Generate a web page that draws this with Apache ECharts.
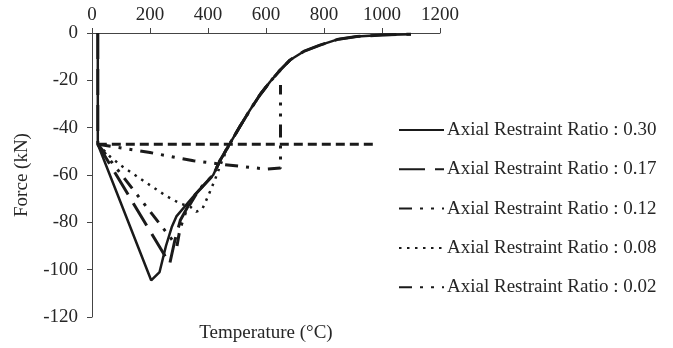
<!DOCTYPE html>
<html>
<head>
<meta charset="utf-8">
<script src="https://cdn.jsdelivr.net/npm/echarts@6/dist/echarts.min.js"></script>
<style>
  html, body { margin: 0; padding: 0; background: #fff; }
  #chart { width: 673px; height: 348px; }
</style>
</head>
<body>
<div id="chart"></div>
<script>
// [temperature (°C), force (kN)]
const ratio030 = [[20, 0], [20, -47], [204, -104.5], [233, -101], [255, -90], [275, -82], [291, -77.5],
  [350, -69], [418, -60], [441, -54], [476, -46.6], [510, -39.5], [545, -32.5], [580, -26], [614, -20.6],
  [650, -15.5], [683, -11.4], [730, -7.8], [786, -5.1], [850, -2.6], [913, -1.5], [1000, -0.8], [1100, -0.5]];
const ratio017 = [[20, 0], [20, -47], [268, -97.5], [285, -88], [305, -79], [350, -69], [418, -60],
  [441, -54], [476, -46.6], [510, -39.5], [545, -32.5], [580, -26], [614, -20.6], [650, -15.5], [683, -11.4],
  [730, -7.8], [786, -5.1], [850, -2.6], [913, -1.5], [1000, -0.8], [1100, -0.5]];
const ratio012 = [[20, -47], [293, -90], [303, -83], [325, -75], [370, -66], [418, -60], [441, -54],
  [476, -46.6], [510, -39.5], [545, -32.5], [580, -26], [614, -20.6], [650, -15.5], [683, -11.4]];
const ratio008 = [[20, -47], [60, -52], [100, -56], [190, -63.5], [258, -69], [303, -72], [340, -73.5],
  [360, -75.5], [380, -74.5], [400, -69], [424, -62], [450, -53.5], [476, -46.6], [510, -39.5],
  [545, -32.5], [580, -26], [614, -20.6]];
const ratio002 = [[20, -47], [200, -50.5], [350, -54], [450, -55.5], [600, -57.5], [650, -57], [650, -22]];
const initialLoad = [[20, -47], [975, -47]];

const seriesNames = ['Axial Restraint Ratio : 0.30', 'Axial Restraint Ratio : 0.17',
  'Axial Restraint Ratio : 0.12', 'Axial Restraint Ratio : 0.08', 'Axial Restraint Ratio : 0.02'];
const xTicks = { min: 0, max: 1200, step: 200 };
const yTicks = { min: -120, max: 0, step: 20 };

const font = 'Liberation Serif';
const ink = '#1a1a1a';
const textColor = '#262626';

const chart = echarts.init(document.getElementById('chart'));

function lineSeries(name, data, width, type) {
  return {
    name: name,
    type: 'line',
    data: data,
    symbol: 'none',
    showSymbol: false,
    animation: false,
    lineStyle: { color: ink, width: width, type: type },
    itemStyle: { color: ink },
    emphasis: { disabled: true },
    z: 3,
  };
}

const option = {
  backgroundColor: '#fff',
  animation: false,
  grid: { left: 92, top: 33, right: 233, bottom: 31, containLabel: false },
  legend: {
    data: seriesNames,
    orient: 'vertical',
    left: 393,
    top: 115,
    itemWidth: 45,
    itemHeight: 14,
    itemGap: 19.3,
    itemStyle: { color: 'rgba(0,0,0,0)', borderWidth: 0, opacity: 0 },
    textStyle: { fontFamily: font, fontSize: 19, color: textColor, lineHeight: 20, padding: [0, 0, 0, -2] },
  },
  xAxis: [
    {
      type: 'value',
      position: 'top',
      min: xTicks.min,
      max: xTicks.max,
      interval: xTicks.step,
      axisLine: { show: true, onZero: false, lineStyle: { color: '#444', width: 1 } },
      axisTick: { show: true, length: 5, lineStyle: { color: '#444' } },
      axisLabel: { fontFamily: font, fontSize: 19, color: textColor, margin: 8, formatter: (v) => String(v) },
      splitLine: { show: false },
    },
    {
      type: 'value',
      position: 'bottom',
      min: xTicks.min,
      max: xTicks.max,
      name: 'Temperature (°C)',
      nameLocation: 'middle',
      nameGap: 7,
      nameTextStyle: { fontFamily: font, fontSize: 19, color: textColor },
      axisLine: { show: false },
      axisTick: { show: false },
      axisLabel: { show: false },
      splitLine: { show: false },
    },
  ],
  yAxis: {
    type: 'value',
    min: yTicks.min,
    max: yTicks.max,
    interval: yTicks.step,
    name: 'Force (kN)',
    nameLocation: 'middle',
    nameRotate: 90,
    nameGap: 60,
    nameTextStyle: { fontFamily: font, fontSize: 19, color: textColor },
    axisLine: { show: true, onZero: false, lineStyle: { color: '#444', width: 1 } },
    axisTick: { show: true, length: 5, lineStyle: { color: '#444' } },
    axisLabel: { fontFamily: font, fontSize: 19, color: textColor, margin: 14, formatter: (v) => String(v) },
    splitLine: { show: false },
  },
  series: [
    lineSeries('', initialLoad, 3, [9, 5]),
    lineSeries(seriesNames[4], ratio002, 3, [13, 8, 3, 8, 3, 8]),
    lineSeries(seriesNames[3], ratio008, 2.5, [2.5, 5.5]),
    lineSeries(seriesNames[2], ratio012, 3, [13, 8, 3, 8, 3, 8]),
    lineSeries(seriesNames[1], ratio017, 3, [26, 10]),
    lineSeries(seriesNames[0], ratio030, 2.5, 'solid'),
  ],
};

chart.setOption(option);
</script>
</body>
</html>
